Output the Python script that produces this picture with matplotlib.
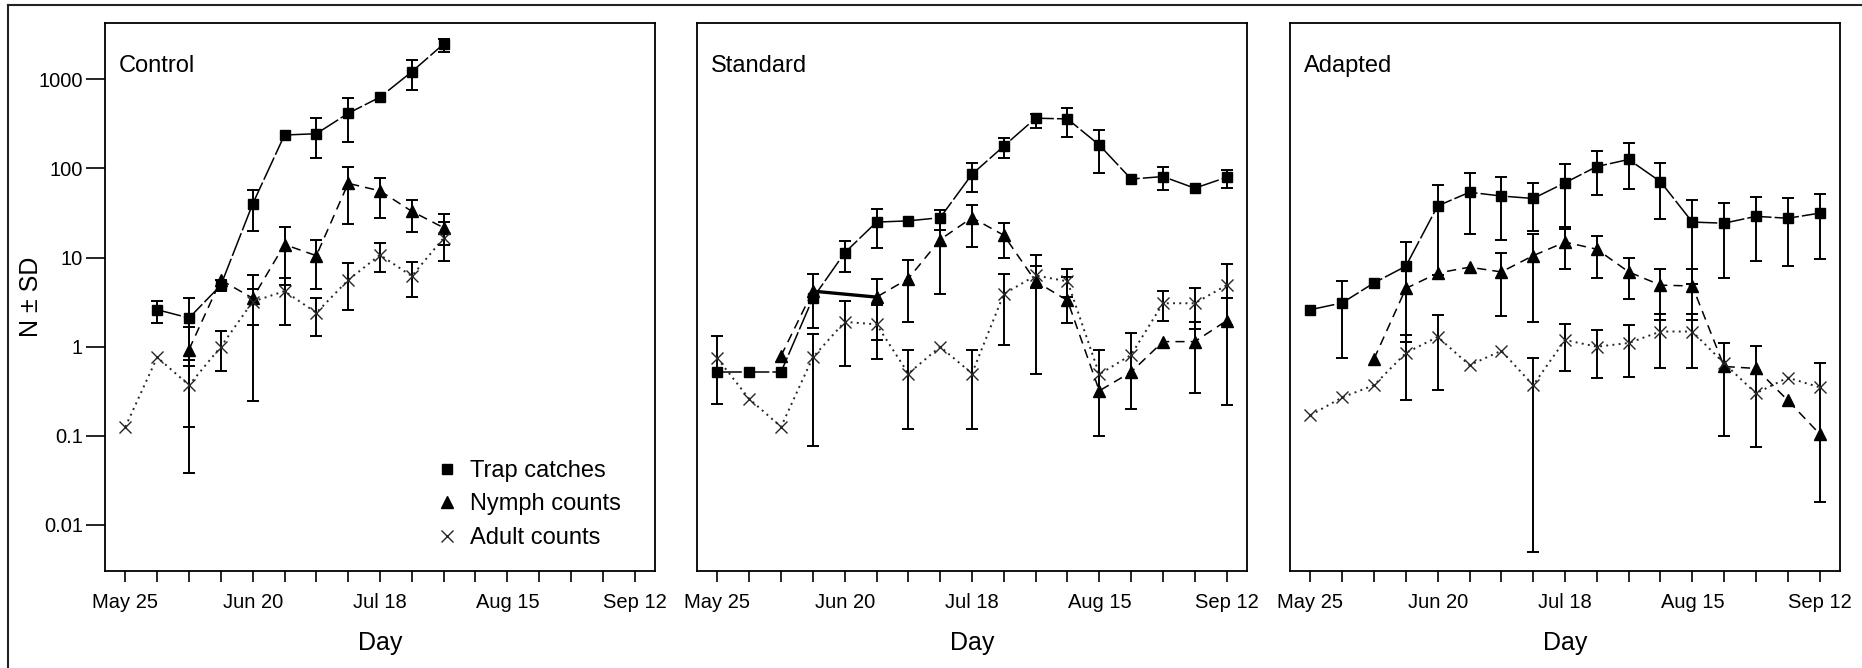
import numpy as np
import matplotlib
matplotlib.use('Agg')
import matplotlib.pyplot as plt
from matplotlib.lines import Line2D

plt.rcParams['font.family'] = ['Liberation Sans', 'DejaVu Sans']

NA = np.nan

# weeks since May 25 (tick every 7 days)
weeks = list(range(17))
week_labels = ['May 25', '', '', '', 'Jun 20', '', '', '', 'Jul 18',
               '', '', '', 'Aug 15', '', '', '', 'Sep 12']
y_ticks = [0.01, 0.1, 1, 10, 100, 1000]
y_tick_labels = ['0.01', '0.1', '1', '10', '100', '1000']
panel_names = ['Control', 'Standard', 'Adapted']
series_names = ['Trap catches', 'Nymph counts', 'Adult counts']

# ---- Control ----
ctrl_trap = [NA, 2.6, 2.1, 4.9, 40, 237, 245, 415, 630, 1215, 2490, NA, NA, NA, NA, NA, NA]
ctrl_trap_lo = [NA, 1.86, 0.61, 4.2, 20, NA, 130, 200, NA, 760, 2040, NA, NA, NA, NA, NA, NA]
ctrl_trap_hi = [NA, 3.26, 3.5, 5.6, 57, NA, 365, 610, NA, 1650, 2800, NA, NA, NA, NA, NA, NA]
ctrl_nymph = [NA, NA, 0.93, 5.6, 3.5, 14, 10.5, 68, 56, 33, 21.6, NA, NA, NA, NA, NA, NA]
ctrl_nymph_lo = [NA, NA, 0.126, NA, 0.245, 4.9, 4.4, 24, 27.5, 19.6, 9.1, NA, NA, NA, NA, NA, NA]
ctrl_nymph_hi = [NA, NA, 1.68, NA, 6.3, 22, 15.8, 105, 78, 44, 30.5, NA, NA, NA, NA, NA, NA]
ctrl_adult = [0.126, 0.76, 0.37, 1.0, 3.2, 4.2, 2.4, 5.6, 10.7, 6.2, 16.6, NA, NA, NA, NA, NA, NA]
ctrl_adult_lo = [NA, NA, 0.038, 0.53, 1.75, 1.75, 1.32, 2.6, 6.9, 3.6, 13.8, NA, NA, NA, NA, NA, NA]
ctrl_adult_hi = [NA, NA, 0.71, 1.5, 4.4, 5.9, 3.5, 8.7, 14.5, 8.9, 25, NA, NA, NA, NA, NA, NA]

# ---- Standard ----
std_trap = [0.52, 0.52, 0.52, 3.5, 11.3, 25, 25.8, 28, 86, 178, 366, 359, 183, 76, 81, 60, 79.5]
std_trap_lo = [0.23, NA, NA, 1.6, 6.8, 12.9, NA, 20.5, 55, 130, 287, 227, 89, NA, 57, NA, 60]
std_trap_hi = [1.32, NA, NA, 6.5, 15.4, 35, NA, 34.5, 115, 218, 405, 473, 270, NA, 105, NA, 96]
std_nymph = [NA, NA, 0.79, 4.2, NA, 3.6, 5.8, 15.9, 28, 17.8, 5.4, 3.3, 0.32, 0.52, 1.14, 1.14, 1.96]
std_nymph_lo = [NA, NA, NA, NA, NA, 1.19, 1.87, 3.9, 13.2, 9.8, 0.5, 1.84, NA, NA, NA, 0.30, 0.22]
std_nymph_hi = [NA, NA, NA, NA, NA, 5.8, 9.3, 34, 39, 24.6, 10.7, 6.0, NA, NA, NA, 1.9, 3.5]
std_adult = [0.74, 0.26, 0.126, 0.76, 1.9, 1.78, 0.50, 1.0, 0.50, 3.9, 6.3, 5.4, 0.49, 0.81, 3.07, 3.07, 4.9]
std_adult_lo = [NA, NA, NA, 0.076, 0.61, 0.72, 0.12, NA, 0.12, 1.05, 4.6, 3.6, 0.10, 0.20, 1.96, 1.57, 1.75]
std_adult_hi = [NA, NA, NA, 1.4, 3.25, 2.9, 0.92, NA, 0.92, 6.5, 8.0, 7.4, 0.92, 1.44, 4.2, 4.5, 8.5]

# ---- Adapted ----
adp_trap = [2.6, 3.1, 5.2, 8.0, 38, 54, 49, 46, 69, 105, 126, 71, 25, 24.3, 29, 27.6, 31.5]
adp_trap_lo = [NA, 0.74, NA, 1.12, 6.3, 18.4, 15.6, 20, 22, 50, 59, 27, 5.0, 5.9, 9.1, 8.1, 9.6]
adp_trap_hi = [NA, 5.4, NA, 14.9, 66, 88, 81, 69, 112, 157, 194, 114, 44, 41, 48, 46, 51.6]
adp_nymph = [NA, NA, 0.73, 4.5, 6.7, 7.8, 6.9, 10.5, 14.9, 12.4, 6.9, 4.9, 4.8, 0.60, 0.57, 0.25, 0.105]
adp_nymph_lo = [NA, NA, NA, NA, NA, NA, 2.2, 1.9, 7.4, 5.9, 3.4, 2.0, 2.0, 0.1, 0.074, NA, NA]
adp_nymph_hi = [NA, NA, NA, NA, NA, NA, 11.3, 18.4, 21, 17.4, 9.8, 7.4, 7.4, 1.1, 1.02, NA, NA]
adp_adult = [0.17, 0.27, 0.37, 0.85, 1.29, 0.62, 0.90, 0.37, 1.19, 1.0, 1.1, 1.48, 1.48, 0.65, 0.30, 0.45, 0.35]
adp_adult_lo = [NA, NA, NA, 0.25, 0.33, NA, NA, 0.005, 0.53, 0.44, 0.46, 0.57, 0.57, NA, NA, NA, 0.018]
adp_adult_hi = [NA, NA, NA, 1.35, 2.24, NA, NA, 0.74, 1.82, 1.55, 1.74, 2.35, 2.35, NA, NA, NA, 0.65]

panels = [
    [(ctrl_trap, ctrl_trap_lo, ctrl_trap_hi), (ctrl_nymph, ctrl_nymph_lo, ctrl_nymph_hi),
     (ctrl_adult, ctrl_adult_lo, ctrl_adult_hi)],
    [(std_trap, std_trap_lo, std_trap_hi), (std_nymph, std_nymph_lo, std_nymph_hi),
     (std_adult, std_adult_lo, std_adult_hi)],
    [(adp_trap, adp_trap_lo, adp_trap_hi), (adp_nymph, adp_nymph_lo, adp_nymph_hi),
     (adp_adult, adp_adult_lo, adp_adult_hi)],
]

# style per series: trap / nymph / adult
styles = [
    dict(ls=(0, (16, 2)), lw=1.1, marker='s', ms=7, color='k', mfc='k', mec='k', mew=1),
    dict(ls=(0, (6, 4)), lw=1.1, marker='^', ms=8, color='k', mfc='k', mec='k', mew=1),
    dict(ls=(0, (1, 2.2)), lw=1.4, marker='x', ms=9, color='#262626', mfc='none', mec='#262626', mew=1.0),
]

W, H = 1862, 668
fig = plt.figure(figsize=(W / 100, H / 100), dpi=100)

lefts = [105, 697, 1290]
ax_w = 550
ax_bottom = 1 - 570.7 / H
ax_h = (570.7 - 23.3) / H

for p, (name, data) in enumerate(zip(panel_names, panels)):
    ax = fig.add_axes([lefts[p] / W, ax_bottom, ax_w / W, ax_h])
    x = np.array(weeks, dtype=float)
    for s, (vals, lo, hi) in enumerate(data):
        v = np.array(vals, dtype=float)
        lo = np.array(lo, dtype=float)
        hi = np.array(hi, dtype=float)
        st = styles[s]
        ok = ~np.isnan(v)
        # line drawn across gaps like the original
        ax.plot(x[ok], v[ok], linestyle=st['ls'], color=st['color'], lw=st['lw'], zorder=2)
        # gap inside a series -> heavy solid joining segment
        idx = np.where(ok)[0]
        for a, b in zip(idx[:-1], idx[1:]):
            if b - a > 1:
                ax.plot([x[a], x[b]], [v[a], v[b]], '-', color='k', lw=2.4, zorder=2)
        ax.plot(x[ok], v[ok], linestyle='none', marker=st['marker'], ms=st['ms'],
                mfc=st['mfc'], mec=st['mec'], mew=st['mew'], zorder=4)
        eb = ~np.isnan(lo) & ok
        ax.errorbar(x[eb], v[eb], yerr=[v[eb] - lo[eb], hi[eb] - v[eb]], fmt='none',
                    ecolor='k', elinewidth=1.4, capsize=4, capthick=1.4, zorder=3)

    ax.set_yscale('log')
    ax.set_ylim(10 ** -2.513, 10 ** 3.628)
    ax.set_xlim(-0.64, 16.64)
    ax.set_xticks(weeks)
    ax.set_xticklabels(week_labels, fontsize=14.5)
    ax.tick_params(axis='x', direction='out', length=8, width=1.2, pad=8)
    ax.minorticks_off()
    if p == 0:
        ax.set_yticks(y_ticks)
        ax.set_yticklabels(y_tick_labels, fontsize=14.5)
        ax.tick_params(axis='y', direction='out', length=14, width=1.2, pad=2)
    else:
        ax.tick_params(axis='y', which='both', left=False, labelleft=False)
    for sp in ax.spines.values():
        sp.set_linewidth(1.3)
    ax.set_xlabel('Day', fontsize=18, labelpad=14)
    ax.text(0.025, 0.9116, name, transform=ax.transAxes, fontsize=17,
            ha='left', va='baseline')

    if p == 0:
        handles = [Line2D([], [], linestyle='none', marker=st['marker'], ms=st['ms'],
                          mfc=st['mfc'], mec=st['mec'], mew=st['mew']) for st in styles]
        ax.legend(handles, series_names, loc='lower left', bbox_to_anchor=(0.60, 0.04),
                  frameon=False, fontsize=17, handlelength=1.0, handletextpad=0.5,
                  labelspacing=0.48, borderpad=0, borderaxespad=0)

fig.text(31 / W, 1 - 297 / H, 'N \u00b1 SD', rotation=90, fontsize=18,
         ha='center', va='center')

# thin outer frame (top and left only)
fig.add_artist(Line2D([8 / W, 8 / W], [0, 1 - 5 / H], transform=fig.transFigure,
                      color='#222222', lw=1.5))
fig.add_artist(Line2D([8 / W, 1], [1 - 5 / H, 1 - 5 / H], transform=fig.transFigure,
                      color='#222222', lw=1.5))

fig.savefig('out.png', dpi=100)
